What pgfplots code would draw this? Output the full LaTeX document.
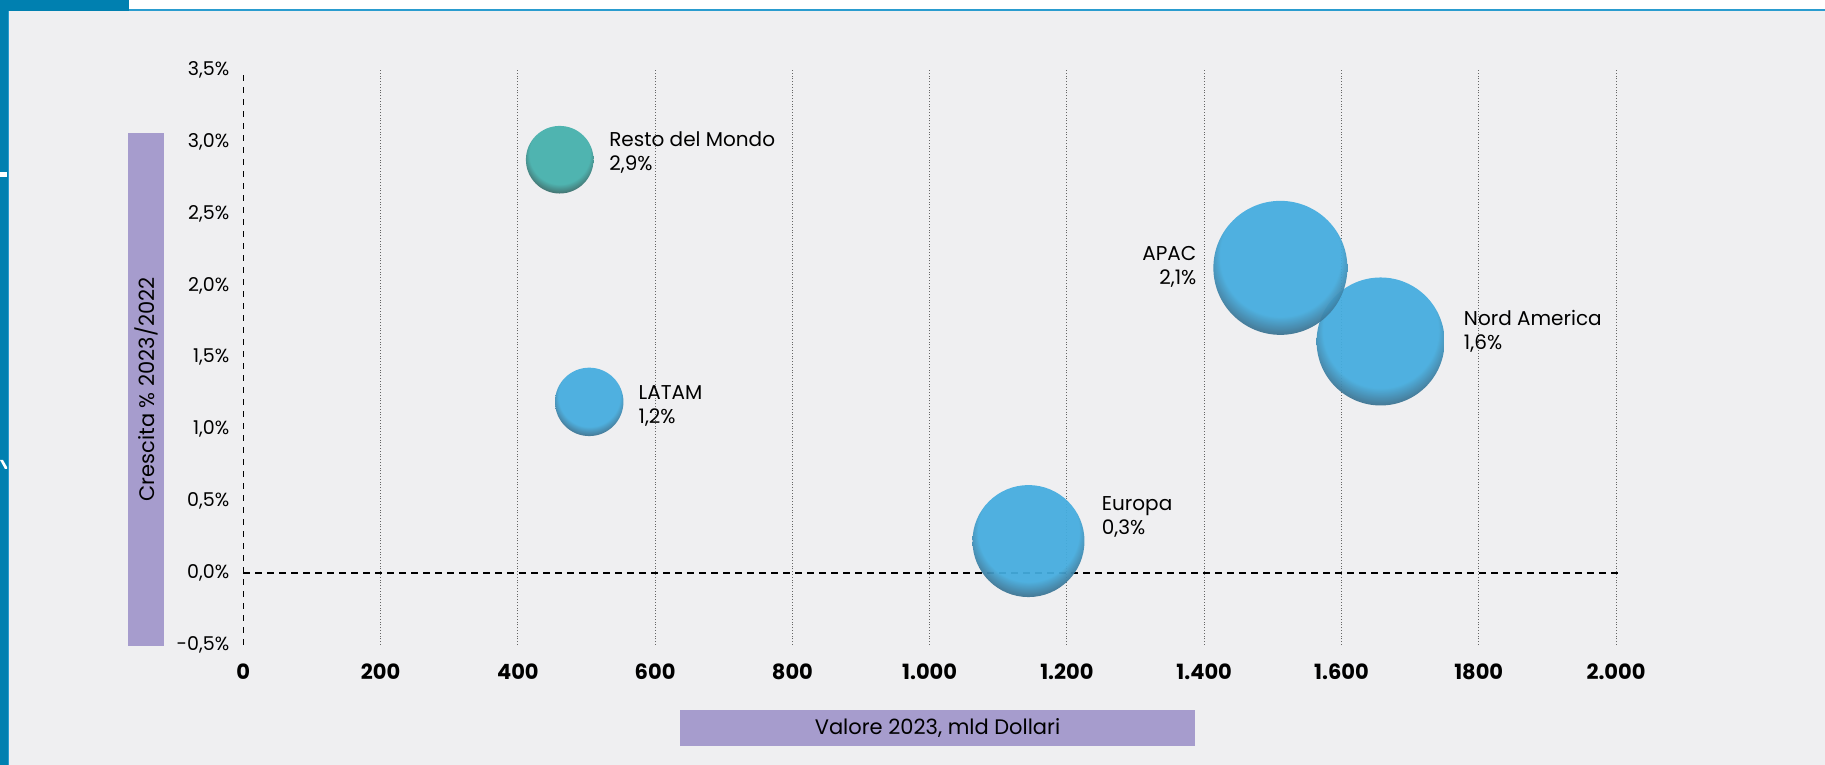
\documentclass[border=0pt]{standalone}
\usepackage{fontspec}
\setmainfont{Poppins}
\usepackage{pgfplots}
\usepackage{pgfplotstable}
\pgfplotsset{compat=1.18}

\definecolor{bgcol}{HTML}{EFEFF1}
\definecolor{frameblue}{HTML}{0080B0}
\definecolor{lineblue}{HTML}{2A9CCF}
\definecolor{lilac}{HTML}{A69CCD}
\definecolor{bubblue}{HTML}{45ADDF}
\definecolor{bubbluedk}{HTML}{3A6680}
\definecolor{bubteal}{HTML}{47B1AD}
\definecolor{bubtealdk}{HTML}{385F5D}

% bubbles: flat colour, darker rim towards the bottom
\pgfdeclareradialshading{shblue}{\pgfpoint{0bp}{8bp}}{color(0bp)=(bubblue); color(22.5bp)=(bubblue); color(29.5bp)=(bubbluedk); color(50bp)=(bubbluedk)}
\pgfdeclareradialshading{shteal}{\pgfpoint{0bp}{8bp}}{color(0bp)=(bubteal); color(22.5bp)=(bubteal); color(29.5bp)=(bubtealdk); color(50bp)=(bubtealdk)}
\pgfdeclareplotmark{bblue}{\pgfpathcircle{\pgfpointorigin}{\pgfplotmarksize}\pgfshadepath{shblue}{0}\pgfusepath{discard}}
\pgfdeclareplotmark{bteal}{\pgfpathcircle{\pgfpointorigin}{\pgfplotmarksize}\pgfshadepath{shteal}{0}\pgfusepath{discard}}

% x = valore 2023 (mld $), y = crescita %, r = bubble radius (pt)
\pgfplotstableread{
x y r
461 2.874 16.9
}\tealdata
\pgfplotstableread{
x y r
1144 0.222 28.0
504 1.190 17.1
1657 1.610 32.0
1511 2.122 33.5
}\bluedata

\begin{document}
\begin{tikzpicture}
\useasboundingbox (0,0) rectangle (912.5pt,382.5pt);
\fill[bgcol] (0,0) rectangle (912.5pt,382.5pt);
% page frame
\fill[white] (0,377.5pt) rectangle (912.5pt,382.5pt);
\fill[lineblue] (64.5pt,377pt) rectangle (912.5pt,378pt);
\fill[frameblue] (0,377pt) rectangle (64.5pt,382.5pt);
\fill[frameblue] (0,0) rectangle (4pt,382.5pt);
\fill[lineblue] (4pt,0) rectangle (4.5pt,377pt);
\fill[white] (0,294pt) rectangle (3.5pt,296.5pt);
\fill[white] (0,152.5pt) -- (1.5pt,152.5pt) -- (3.5pt,149pt) -- (3.5pt,148pt) -- (2.5pt,148pt) -- cycle;

\begin{axis}[
  at={(121.65pt,60.05pt)}, anchor=south west,
  scale only axis, width=686.35pt, height=287.6pt,
  xmin=0, xmax=2000, ymin=-0.5, ymax=3.5,
  clip=false,
  axis line style={draw=none},
  major tick length=0pt, minor tick length=0pt,
  xtick={0,200,...,2000},
  xticklabels={0,200,400,600,800,1.000,1.200,1.400,1.600,1800,2.000},
  minor xtick={200,400,...,2000},
  xminorgrids=true,
  minor grid style={densely dotted, black!60, line width=0.5pt},
  ytick={-0.5,0,0.5,1,1.5,2,2.5,3,3.5},
  yticklabels={{-0,5\%},{0,0\%},{0,5\%},{1,0\%},{1,5\%},{2,0\%},{2,5\%},{3,0\%},{3,5\%}},
  xticklabel style={font=\fontsize{10.5}{12}\bfseries\selectfont, yshift=-6pt},
  yticklabel style={font=\fontsize{9.5}{11}\selectfont, xshift=-3.5pt},
]
\addplot[black, line width=0.6pt, dash pattern=on 3pt off 3pt] coordinates {(0,-0.5)(0,3.5)};
\addplot[black, line width=0.6pt, dash pattern=on 3.5pt off 2.5pt] coordinates {(0,0)(2010,0)};

\addplot[scatter, only marks, mark=bteal, mark options={fill opacity=0.95},
  visualization depends on={\thisrow{r} \as \rr},
  scatter/@pre marker code/.append style={/tikz/mark size=\rr pt}]
  table[x=x, y=y] {\tealdata};
\addplot[scatter, only marks, mark=bblue, mark options={fill opacity=0.94},
  visualization depends on={\thisrow{r} \as \rr},
  scatter/@pre marker code/.append style={/tikz/mark size=\rr pt}]
  table[x=x, y=y] {\bluedata};

\begin{scope}[every node/.style={font=\fontsize{10}{12}\selectfont, inner sep=0pt}]
\node[anchor=west, align=left] at (axis cs:532.7,2.922) {Resto del Mondo\\2,9\%};
\node[anchor=west, align=left] at (axis cs:575.4,1.159) {LATAM\\1,2\%};
\node[anchor=west, align=left] at (axis cs:1250.4,0.389) {Europa\\0,3\%};
\node[anchor=east, align=right] at (axis cs:1389.2,2.131) {APAC\\2,1\%};
\node[anchor=west, align=left] at (axis cs:1777.9,1.681) {Nord America\\1,6\%};
\end{scope}
\end{axis}

% axis titles in lilac boxes
\fill[lilac] (64pt,59.5pt) rectangle (82pt,316pt);
\node[rotate=90, font=\fontsize{10.5}{12}\selectfont] at (73pt,187.75pt) {Crescita \% 2023/2022};
\fill[lilac] (340pt,9.5pt) rectangle (597.5pt,27.5pt);
\node[font=\fontsize{10.5}{12}\selectfont] at (468.75pt,18.5pt) {Valore 2023, mld Dollari};
\end{tikzpicture}
\end{document}
